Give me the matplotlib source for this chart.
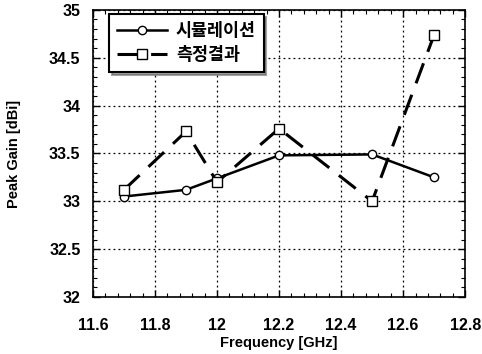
import matplotlib
matplotlib.use('Agg')
import matplotlib.pyplot as plt
import matplotlib.ticker as mticker

freq = [11.7, 11.9, 12.0, 12.2, 12.5, 12.7]
sim_gain = [33.05, 33.12, 33.24, 33.48, 33.49, 33.25]
meas_gain = [33.12, 33.73, 33.20, 33.76, 33.00, 34.74]
labels = ['시뮬레이션', '측정결과']

plt.rcParams['font.family'] = ['Liberation Sans', 'Noto Sans CJK KR', 'DejaVu Sans']
plt.rcParams['font.weight'] = 'bold'

fig = plt.figure(figsize=(4.82, 3.54), dpi=100)
ax = fig.add_axes([0.193, 0.161, 0.772, 0.811])

ax.plot(freq, sim_gain, color='black', linewidth=1.8, marker='o', markersize=6,
        markerfacecolor='white', markeredgecolor='black', markeredgewidth=1.0,
        label=labels[0])
ax.plot(freq, meas_gain, color='black', linewidth=2.2, dashes=(7, 4), marker='s', markersize=7,
        markerfacecolor='white', markeredgecolor='black', markeredgewidth=1.0,
        label=labels[1])

ax.set_xlim(11.6, 12.8)
ax.set_ylim(32, 35)
ax.xaxis.set_major_locator(mticker.MultipleLocator(0.2))
ax.xaxis.set_minor_locator(mticker.MultipleLocator(0.04))
ax.yaxis.set_major_locator(mticker.MultipleLocator(0.5))
ax.yaxis.set_minor_locator(mticker.MultipleLocator(0.1))
ax.xaxis.set_major_formatter(mticker.FuncFormatter(lambda v, p: f'{v:g}'))
ax.yaxis.set_major_formatter(mticker.FuncFormatter(lambda v, p: f'{v:g}'))

# 格線：主要刻度，黑色點線
ax.grid(which='major', linestyle=(0, (1.5, 2.5)), linewidth=0.9, color='black')
ax.tick_params(which='both', direction='in', top=True, right=True, color='black')
ax.tick_params(which='major', length=5, width=1, labelsize=11.5)
ax.tick_params(axis='x', which='major', pad=15)
ax.tick_params(axis='y', which='major', pad=9)
ax.tick_params(which='minor', length=3, width=0.8)
for s in ax.spines.values():
    s.set_linewidth(1.2)

ax.set_xlabel('Frequency [GHz]', fontsize=10.5, fontweight='bold', labelpad=2)
ax.set_ylabel('Peak Gain [dBi]', fontsize=10.5, fontweight='bold', labelpad=20)

leg = ax.legend(loc='upper left', bbox_to_anchor=(0.043, 0.985), borderaxespad=0,
                fancybox=False, shadow=True, framealpha=1, edgecolor='black',
                handlelength=2.9, columnspacing=0,
                prop={'family': ['Noto Sans CJK KR', 'DejaVu Sans'], 'weight': 'bold', 'size': 12.5},
                borderpad=0.45, labelspacing=0.35, handletextpad=0.5)
leg.get_frame().set_linewidth(1.5)

fig.savefig('out.png', dpi=100)
